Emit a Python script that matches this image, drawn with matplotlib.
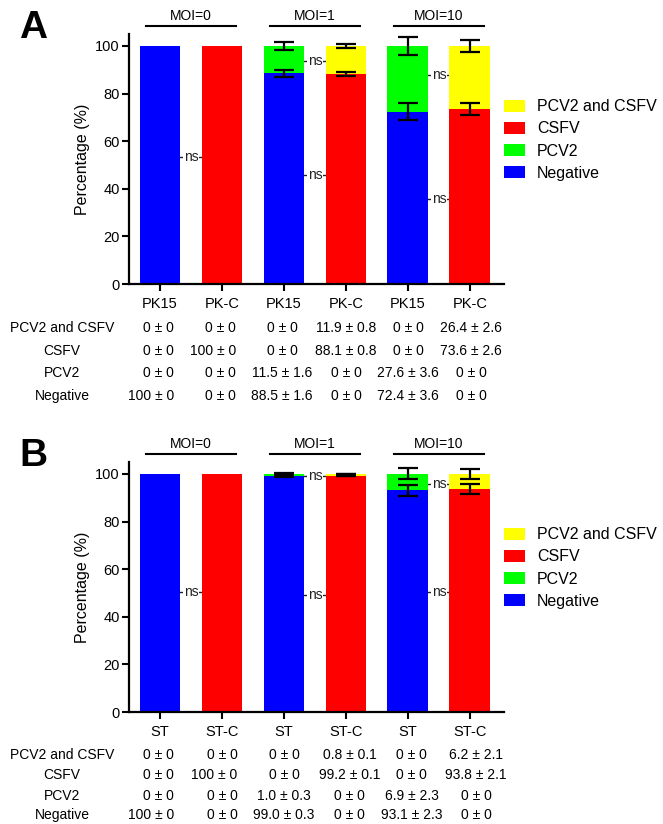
import matplotlib
matplotlib.use('Agg')
import matplotlib.pyplot as plt
import numpy as np

plt.rcParams['font.family'] = ['Liberation Sans', 'DejaVu Sans']

groups = ['MOI=0', 'MOI=1', 'MOI=10']
row_names = ['PCV2 and CSFV', 'CSFV', 'PCV2', 'Negative']
colors = {'PCV2 and CSFV': '#ffff00', 'CSFV': '#ff0000', 'PCV2': '#00ff00', 'Negative': '#0000ff'}

# panel A: PK15 cells
a_cells = ['PK15', 'PK-C', 'PK15', 'PK-C', 'PK15', 'PK-C']
a_neg = [100, 0, 88.5, 0, 72.4, 0]
a_neg_sd = [0, 0, 1.6, 0, 3.6, 0]
a_csfv = [0, 100, 0, 88.1, 0, 73.6]
a_csfv_sd = [0, 0, 0, 0.8, 0, 2.6]
a_pcv2 = [0, 0, 11.5, 0, 27.6, 0]
a_pcv2_sd = [0, 0, 1.6, 0, 3.6, 0]
a_both = [0, 0, 0, 11.9, 0, 26.4]
a_both_sd = [0, 0, 0, 0.8, 0, 2.6]
a_ns = [(0, 53.4), (2, 93.7), (2, 45.8), (4, 87.8), (4, 35.7)]

# panel B: ST cells
b_cells = ['ST', 'ST-C', 'ST', 'ST-C', 'ST', 'ST-C']
b_neg = [100, 0, 99.0, 0, 93.1, 0]
b_neg_sd = [0, 0, 0.3, 0, 2.3, 0]
b_csfv = [0, 100, 0, 99.2, 0, 93.8]
b_csfv_sd = [0, 0, 0, 0.1, 0, 2.1]
b_pcv2 = [0, 0, 1.0, 0, 6.9, 0]
b_pcv2_sd = [0, 0, 0.3, 0, 2.3, 0]
b_both = [0, 0, 0, 0.8, 0, 6.2]
b_both_sd = [0, 0, 0, 0.1, 0, 2.1]
b_ns = [(0, 50.2), (2, 99.2), (2, 49.0), (4, 95.8), (4, 50.2)]


def fmt(v):
    if v == 0 or v == 100:
        return '%d' % v
    return '%.1f' % v


def draw_panel(ax, cells, neg, neg_sd, csfv, csfv_sd, pcv2, pcv2_sd, both, both_sd,
               ns, col_pos, row_off, letter):
    x = np.arange(len(cells))
    w = 0.66
    series = [('Negative', neg, neg_sd), ('CSFV', csfv, csfv_sd),
              ('PCV2', pcv2, pcv2_sd), ('PCV2 and CSFV', both, both_sd)]
    bottom = np.zeros(len(cells))
    handles = {}
    tops = []
    for name, vals, sds in series:
        vals = np.array(vals, dtype=float)
        h = ax.bar(x, vals, w, bottom=bottom, color=colors[name], edgecolor='none', zorder=2)
        handles[name] = h
        bottom = bottom + vals
        for i in range(len(cells)):
            if vals[i] > 0 and sds[i] > 0:
                tops.append((x[i], bottom[i], sds[i]))
    for xi, yi, sd in tops:
        ax.errorbar(xi, yi, yerr=sd, color='black', capsize=7, elinewidth=1.6,
                    capthick=1.6, zorder=4)

    # ns marks between paired bars
    for i, yv in ns:
        ax.plot([i, i + 1], [yv, yv], color='#222222', lw=1, zorder=1)
        ax.text(i + 0.5, yv, 'ns', ha='center', va='center', fontsize=10, color='#222222',
                bbox=dict(fc='white', ec='none', pad=0.4), zorder=1.5)

    # MOI group brackets
    for g, name in enumerate(groups):
        l = 2 * g
        ax.plot([l - 0.22, l + 1.22], [108.5, 108.5], color='black', lw=1.5, clip_on=False)
        ax.text(l + 0.5, 112.7, name, ha='center', va='center', fontsize=10)

    ax.set_xlim(-0.5, 5.55)
    ax.set_ylim(0, 105)
    ax.set_yticks([0, 20, 40, 60, 80, 100])
    ax.set_xticks(x)
    ax.set_xticklabels(cells, fontsize=10.5)
    ax.tick_params(axis='y', labelsize=10.5, length=5, width=1.5, pad=1.5)
    ax.tick_params(axis='x', length=5, width=1.5, pad=4)
    for s in ['top', 'right']:
        ax.spines[s].set_visible(False)
    for s in ['left', 'bottom']:
        ax.spines[s].set_linewidth(1.6)
    ax.set_ylabel('Percentage (%)', fontsize=11.5, labelpad=4)

    # table of values under the bars
    table = {'PCV2 and CSFV': (both, both_sd), 'CSFV': (csfv, csfv_sd),
             'PCV2': (pcv2, pcv2_sd), 'Negative': (neg, neg_sd)}
    for r, name in enumerate(row_names):
        yoff = -row_off[r]
        ax.annotate(name, xy=(0, 0), xycoords=('figure pixels', 'data'),
                    xytext=(62, yoff), textcoords=('figure pixels', 'offset pixels'),
                    ha='center', va='center', fontsize=10, annotation_clip=False)
        vals, sds = table[name]
        for c in range(len(cells)):
            cx, ha = col_pos[c]
            ax.annotate('%s \u00b1 %s' % (fmt(vals[c]), fmt(sds[c])), xy=(cx, 0),
                        xytext=(0, yoff), textcoords='offset pixels',
                        ha=ha, va='center', fontsize=10, annotation_clip=False)

    leg_names = ['PCV2 and CSFV', 'CSFV', 'PCV2', 'Negative']
    ax.legend([handles[n] for n in leg_names], leg_names, loc='upper left',
              bbox_to_anchor=(1.0, 0.739), frameon=False, fontsize=11.5,
              handlelength=1.3, handleheight=0.8, handletextpad=0.75,
              labelspacing=0.45, borderpad=0, borderaxespad=0)

    ax.text(-0.293, 1.095, letter, transform=ax.transAxes, fontsize=28,
            fontweight='bold', ha='left', va='top')


fig = plt.figure(figsize=(6.63, 8.24), dpi=100)
ax_a = fig.add_axes([0.1946, 0.6553, 0.5656, 0.3034])
ax_b = fig.add_axes([0.1946, 0.1359, 0.5656, 0.3034])

cols_a = [(0.23, 'right'), (1.23, 'right'), (1.97, 'center'), (3.0, 'center'),
          (4.0, 'center'), (5.02, 'center')]
cols_b = [(0.23, 'right'), (1.25, 'right'), (2.0, 'center'), (3.06, 'center'),
          (4.06, 'center'), (5.1, 'center')]

draw_panel(ax_a, a_cells, a_neg, a_neg_sd, a_csfv, a_csfv_sd, a_pcv2, a_pcv2_sd,
           a_both, a_both_sd, a_ns, cols_a, [44, 66.5, 89, 111.5], 'A')
draw_panel(ax_b, b_cells, b_neg, b_neg_sd, b_csfv, b_csfv_sd, b_pcv2, b_pcv2_sd,
           b_both, b_both_sd, b_ns, cols_b, [43, 63, 84, 103], 'B')

fig.savefig('out.png', dpi=100)
